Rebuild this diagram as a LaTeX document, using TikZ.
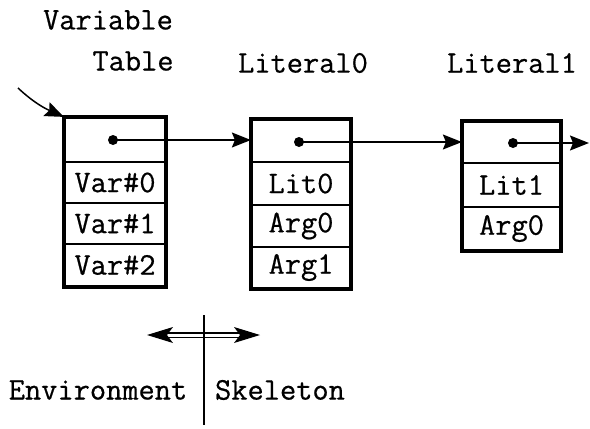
\documentclass[tikz,border=0pt]{standalone}
\usepackage{fontspec}
\newfontfamily\tw[FakeBold=0.6]{Latin Modern Mono}
\usetikzlibrary{arrows.meta}
\begin{document}
\begin{tikzpicture}[x=1pt,y=-1pt,
  every node/.style={font=\tw\fontsize{31.5}{32}\selectfont, inner sep=0pt},
  cell/.style={draw, line width=2.2pt, inner sep=0pt},
  frame/.style={draw, line width=3.2pt},
  link/.style={line width=1.5pt, -{Stealth[length=19pt,width=15pt,inset=3pt]}},
  dotmark/.style={fill, circle, minimum size=10pt, inner sep=0pt}]
\useasboundingbox (0,0) rectangle (590,429);
% labels
\node (lvar) at (108,20) {Variable};
\node (ltab) at (133,61) {Table};
\node (ll0) at (303,63) {Literal0};
\node (ll1) at (512,63) {Literal1};
% Variable table
\node[cell, minimum width=100pt, minimum height=44pt] (v0) at (115,140) {};
\node[cell, minimum width=100pt, minimum height=41pt] (v1) at (115,182.5) {Var\#0};
\node[cell, minimum width=100pt, minimum height=41pt] (v2) at (115,223.5) {Var\#1};
\node[cell, minimum width=100pt, minimum height=42pt] (v3) at (115,265) {Var\#2};
\draw[frame] (v0.north west) rectangle (v3.south east);
% Literal0
\node[cell, minimum width=98pt, minimum height=42pt] (a0) at (301,141) {};
\node[cell, minimum width=98pt, minimum height=43pt] (a1) at (301,183.5) {Lit0};
\node[cell, minimum width=98pt, minimum height=42pt] (a2) at (301,226) {Arg0};
\node[cell, minimum width=98pt, minimum height=41pt] (a3) at (301,267.5) {Arg1};
\draw[frame] (a0.north west) rectangle (a3.south east);
% Literal1
\node[cell, minimum width=97pt, minimum height=41pt] (b0) at (511.5,142.5) {};
\node[cell, minimum width=97pt, minimum height=44pt] (b1) at (511.5,185) {Lit1};
\node[cell, minimum width=97pt, minimum height=43pt] (b2) at (511.5,228.5) {Arg0};
\draw[frame] (b0.north west) rectangle (b2.south east);
% dots
\node[dotmark] (d0) at (113,140) {};
\node[dotmark] (d1) at (299,142) {};
\node[dotmark] (d2) at (513,143) {};
\coordinate (out) at (589,143);
\coordinate (src) at (18,88);
% links
\draw[link] (d0.center) -- (d0.center -| a0.west);
\draw[link] (d1.center) -- (d1.center -| b0.west);
\draw[link] (d2.center) -- (out);
\draw[link] (src) .. controls (33,102) and (44,108) .. (v0.north west);
% bottom
\coordinate (dl) at (147,335);
\coordinate (dr) at (260,335);
\coordinate (vt) at (204,315);
\coordinate (vb) at (204,425);
\draw[double, double distance=3pt, line width=1.3pt] ([xshift=14pt]dl) -- ([xshift=-14pt]dr);
\fill (dl) -- ++(26,-8) -- ++(-6,8) -- ++(6,8) -- cycle;
\fill (dr) -- ++(-26,-8) -- ++(6,8) -- ++(-6,8) -- cycle;
\draw[line width=1.5pt] (vt) -- (vb);
\node (env) at (98,390) {Environment};
\node (skel) at (280,390) {Skeleton};
\end{tikzpicture}
\end{document}
